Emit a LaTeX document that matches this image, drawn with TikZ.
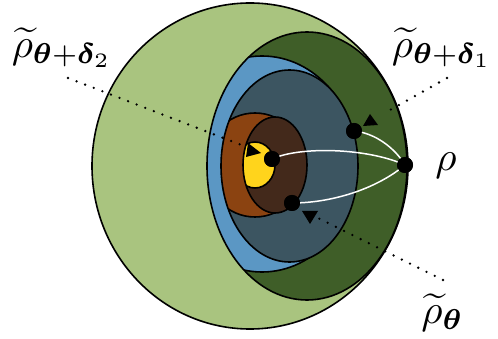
\documentclass[tikz,border=0pt]{standalone}
\usepackage{graphicx}
\usepackage{amsmath}
\usepackage{bm}
\definecolor{lgreen}{RGB}{169,196,127}
\definecolor{dgreen}{RGB}{63,94,40}
\definecolor{sblue}{RGB}{91,151,196}
\definecolor{slate}{RGB}{60,85,97}
\definecolor{obrown}{RGB}{139,67,17}
\definecolor{dbrown}{RGB}{67,41,27}
\definecolor{syellow}{RGB}{255,212,28}
\newcommand{\biglab}[1]{\scalebox{4.1}{$#1$}}
\begin{document}
\begin{tikzpicture}[x=1pt,y=-1pt,
  outl/.style={draw=black, line width=1.6pt},
  dotnode/.style={circle, fill=black, inner sep=0pt, minimum size=16pt},
  wcurve/.style={draw=white, line width=1.5pt},
  dotline/.style={line width=2.6pt, dash pattern=on 0pt off 9.2pt, line cap=round},
  tri/.style={fill=black},
  lab/.style={inner sep=0pt}]
\useasboundingbox (0,0) rectangle (498,339);
% outer light green
\fill[lgreen] (250,166) ellipse [x radius=158pt, y radius=163pt];
\draw[outl] (250,166) ellipse [x radius=158pt, y radius=163pt];
% dark green
\fill[dgreen] (307,166) ellipse [x radius=100pt, y radius=134pt];
\begin{scope}
  \clip (307,166) ellipse [x radius=100pt, y radius=134pt];
  \fill[sblue] (262,164) ellipse [x radius=95pt, y radius=108pt];
  \draw[outl] (262,164) ellipse [x radius=95pt, y radius=108pt];
\end{scope}
\draw[outl] (307,166) ellipse [x radius=100pt, y radius=134pt];
% slate
\fill[slate] (289.5,166) ellipse [x radius=68.5pt, y radius=96pt];
\begin{scope}
  \clip (289.5,166) ellipse [x radius=68.5pt, y radius=96pt];
  \fill[obrown] (255,165) ellipse [x radius=50pt, y radius=52pt];
  \draw[outl] (255,165) ellipse [x radius=50pt, y radius=52pt];
\end{scope}
\draw[outl] (289.5,166) ellipse [x radius=68.5pt, y radius=96pt];
% dark brown
\fill[dbrown] (275,165) ellipse [x radius=32pt, y radius=48pt];
\begin{scope}
  \clip (275,165) ellipse [x radius=32pt, y radius=48pt];
  \fill[syellow] (255,165) ellipse [x radius=20pt, y radius=23pt];
  \draw[outl] (255,165) ellipse [x radius=20pt, y radius=23pt];
\end{scope}
\draw[outl] (275,165) ellipse [x radius=32pt, y radius=48pt];
% points
\node[dotnode] (a) at (272,159) {};
\node[dotnode] (b) at (354,131) {};
\node[dotnode] (r) at (405,165) {};
\node[dotnode] (c) at (292,203) {};
% white curves
\draw[wcurve] (a.center) .. controls (300,146) and (368,148) .. (r.center);
\draw[wcurve] (b.center) .. controls (375,133) and (395,148) .. (r.center);
\draw[wcurve] (c.center) .. controls (330,203) and (375,190) .. (r.center);
\node[dotnode] at (a) {};
\node[dotnode] at (b) {};
\node[dotnode] at (r) {};
\node[dotnode] at (c) {};
% labels
\node[lab] (l2) at (62,48) {\biglab{\widetilde{\rho}_{\boldsymbol{\theta}+\boldsymbol{\delta}_2}}};
\node[lab] (l1) at (442,48) {\biglab{\widetilde{\rho}_{\boldsymbol{\theta}+\boldsymbol{\delta}_1}}};
\node[lab] (lr) at (446,165.5) {\biglab{\rho}};
\node[lab] (lt) at (442.5,312.5) {\biglab{\widetilde{\rho}_{\boldsymbol{\theta}}}};
% dotted leaders
\coordinate (s2) at (68,78);
\coordinate (e2) at (244,146);
\coordinate (s1) at (447,78);
\coordinate (e1) at (383,114);
\coordinate (st) at (443,280);
\coordinate (et) at (318,218);
\draw[dotline] (s2) -- (e2);
\draw[dotline] (s1) -- (e1);
\draw[dotline] (st) -- (et);
% arrow heads
\fill[tri] (248,143) -- (246,157) -- (261,153) -- cycle;
\fill[tri] (370,114) -- (363,126) -- (378,125) -- cycle;
\fill[tri] (302,211) -- (318,211) -- (310,224) -- cycle;
\end{tikzpicture}
\end{document}
